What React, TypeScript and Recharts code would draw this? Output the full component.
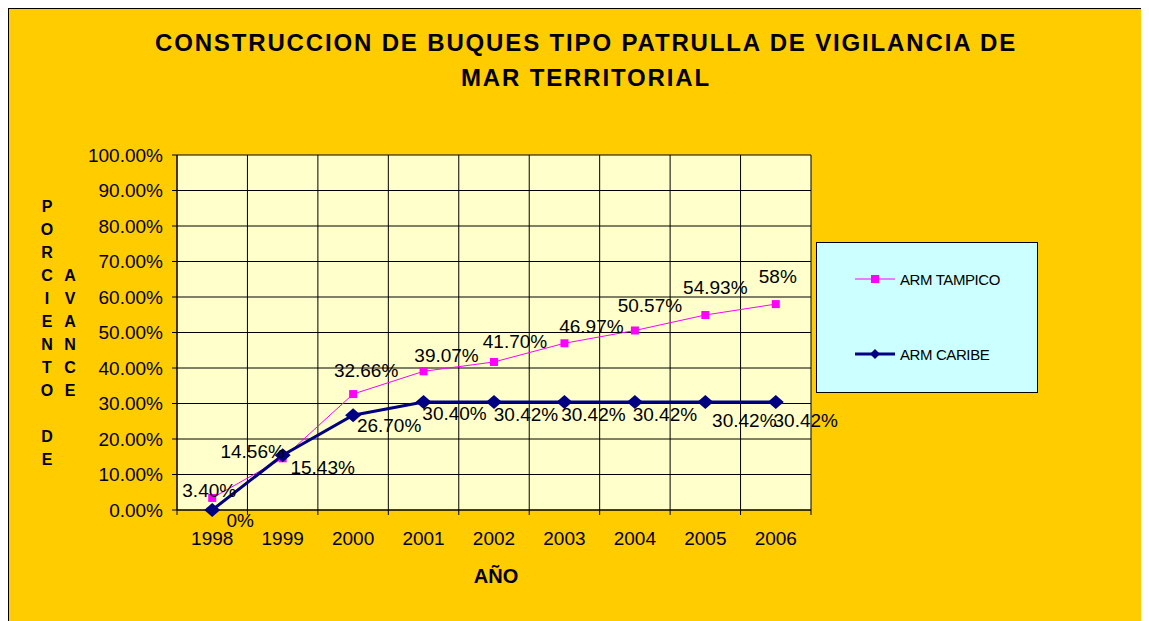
import { LineChart, Line, XAxis, YAxis, CartesianGrid, Legend, LabelList } from 'recharts';

// values (percent)
const years = ['1998', '1999', '2000', '2001', '2002', '2003', '2004', '2005', '2006'];
const tampico = [3.4, 14.56, 32.66, 39.07, 41.7, 46.97, 50.57, 54.93, 58];
const caribe = [0, 15.43, 26.7, 30.4, 30.42, 30.42, 30.42, 30.42, 30.42];
const yTicks = [0, 10, 20, 30, 40, 50, 60, 70, 80, 90, 100];

// label nudges: [dx, dy] from the point to the centre of its label
const tampicoNudge = [[-3, -8], [-30, -7], [13, -24], [23, -16], [21, -21], [27, -17], [15, -25], [10, -28], [2, -28]];
const caribeNudge = [[28, 10], [40, 12], [36, 10], [31, 11], [32, 12], [29, 12], [30, 12], [39, 18], [30, 18]];

const data = years.map((year, i) => ({ year, tampico: tampico[i], caribe: caribe[i] }));

const MAGENTA = '#FF00FF';
const NAVY = '#000080';
const FONT = '"Liberation Sans", Arial, sans-serif';

const fmtPct = (v: number) => (Number.isInteger(v) ? `${v}%` : `${v.toFixed(2)}%`);

const makeLabel = (nudge: number[][]) => (props: any) => {
  const { x, y, value, index } = props;
  const [dx, dy] = nudge[index] || [0, 0];
  return (
    <text x={x + dx} y={y + dy} dy="0.35em" textAnchor="middle" fontSize={19} fill="#000">
      {fmtPct(value)}
    </text>
  );
};

const squareDot = (p: any) => (
  <rect key={`sq-${p.index}`} x={p.cx - 4} y={p.cy - 4} width={8} height={8} fill={MAGENTA} />
);

const diamondDot = (p: any) => (
  <polygon
    key={`dm-${p.index}`}
    points={`${p.cx - 8},${p.cy} ${p.cx},${p.cy - 7} ${p.cx + 8},${p.cy} ${p.cx},${p.cy + 7}`}
    fill={NAVY}
  />
);

// Excel style: vertical gridlines on category boundaries
const boundaries = ({ offset }: any) => {
  const step = offset.width / years.length;
  return years.map((_, i) => offset.left + i * step).concat(offset.left + offset.width);
};

// year label plus a small tick mark on the category boundary
const yearTick = (props: any) => {
  const { x, y, payload, index } = props;
  const half = payload.offset || 0;
  const axisY = y - 22;
  return (
    <g>
      <line x1={x - half} y1={axisY} x2={x - half} y2={axisY + 5} stroke="#000" />
      {index === years.length - 1 && <line x1={x + half} y1={axisY} x2={x + half} y2={axisY + 5} stroke="#000" />}
      <text x={x} y={y} dy="0.71em" textAnchor="middle" fontSize={19} fill="#000">
        {payload.value}
      </text>
    </g>
  );
};

const renderLegend = () => (
  <div
    style={{
      width: '100%',
      height: '100%',
      background: '#CCFFFF',
      border: '1px solid #000',
      boxSizing: 'border-box',
      position: 'relative',
      fontSize: 15,
      letterSpacing: -0.4,
      color: '#000',
    }}
  >
    <div style={{ position: 'absolute', left: 38, top: 27, display: 'flex', alignItems: 'center' }}>
      <svg width={42} height={18}>
        <line x1={0} y1={9} x2={40} y2={9} stroke={MAGENTA} strokeWidth={1} />
        <rect x={16} y={5} width={8} height={8} fill={MAGENTA} />
      </svg>
      <span style={{ marginLeft: 3 }}>ARM TAMPICO</span>
    </div>
    <div style={{ position: 'absolute', left: 38, top: 102, display: 'flex', alignItems: 'center' }}>
      <svg width={42} height={18}>
        <line x1={0} y1={9} x2={40} y2={9} stroke={NAVY} strokeWidth={3} />
        <polygon points="15,9 20,4 25,9 20,14" fill={NAVY} />
      </svg>
      <span style={{ marginLeft: 3 }}>ARM CARIBE</span>
    </div>
  </div>
);

const col1 = 'PORCIENTO DE'.split('');
const col2 = 'AVANCE'.split('');

export default function App() {
  return (
    <div
      style={{
        position: 'relative',
        width: 1200,
        height: 640,
        background: '#FFCC00',
        borderTop: '1px solid #000',
        borderLeft: '1px solid #000',
        boxSizing: 'border-box',
        overflow: 'hidden',
        fontFamily: FONT,
      }}
    >
      <style>{'html, body { overflow: hidden; }'}</style>
      <div
        style={{
          position: 'absolute',
          left: 77,
          top: 16,
          width: 1000,
          textAlign: 'center',
          fontWeight: 'bold',
          fontSize: 24,
          lineHeight: '35px',
          letterSpacing: 1.85,
        }}
      >
        CONSTRUCCION DE BUQUES TIPO PATRULLA DE VIGILANCIA DE
        <br />
        MAR TERRITORIAL
      </div>

      {col1.map((c, i) => (
        <div
          key={`c1-${i}`}
          style={{ position: 'absolute', left: 28, top: 186 + i * 23, width: 20, textAlign: 'center', fontWeight: 'bold', fontSize: 16, lineHeight: '23px' }}
        >
          {c === ' ' ? '\u00a0' : c}
        </div>
      ))}
      {col2.map((c, i) => (
        <div
          key={`c2-${i}`}
          style={{ position: 'absolute', left: 51, top: 186 + (i + 3) * 23, width: 20, textAlign: 'center', fontWeight: 'bold', fontSize: 16, lineHeight: '23px' }}
        >
          {c}
        </div>
      ))}

      <div
        style={{ position: 'absolute', left: 387, top: 555, width: 200, textAlign: 'center', fontWeight: 'bold', fontSize: 20, lineHeight: '24px' }}
      >
        AÑO
      </div>

      <LineChart width={1140} height={612} data={data} margin={{ top: 146, right: 338, bottom: 71, left: 68 }}>
        <CartesianGrid
          stroke="#000"
          fill="#FFFFCC"
          fillOpacity={1}
          verticalCoordinatesGenerator={boundaries}
        />
        <XAxis
          dataKey="year"
          scale="band"
          height={40}
          tickSize={0}
          tickMargin={22}
          tickLine={false}
          axisLine={{ stroke: '#000' }}
          tick={yearTick}
          interval={0}
        />
        <YAxis
          width={100}
          domain={[0, 100]}
          ticks={yTicks}
          tickFormatter={(v: number) => `${v.toFixed(2)}%`}
          tickSize={5}
          tickMargin={9}
          axisLine={{ stroke: '#000' }}
          tickLine={{ stroke: '#000' }}
          tick={{ fill: '#000', fontSize: 19 }}
          interval={0}
        />
        <Legend
          layout="vertical"
          align="center"
          verticalAlign="middle"
          content={renderLegend}
          wrapperStyle={{ left: 807, top: 233, width: 222, height: 151 }}
        />
        <Line
          type="linear"
          dataKey="tampico"
          name="ARM TAMPICO"
          stroke={MAGENTA}
          strokeWidth={1}
          dot={squareDot}
          activeDot={false}
          isAnimationActive={false}
        >
          <LabelList dataKey="tampico" content={makeLabel(tampicoNudge)} />
        </Line>
        <Line
          type="linear"
          dataKey="caribe"
          name="ARM CARIBE"
          stroke={NAVY}
          strokeWidth={3}
          dot={diamondDot}
          activeDot={false}
          isAnimationActive={false}
        >
          <LabelList dataKey="caribe" content={makeLabel(caribeNudge)} />
        </Line>
      </LineChart>
    </div>
  );
}
